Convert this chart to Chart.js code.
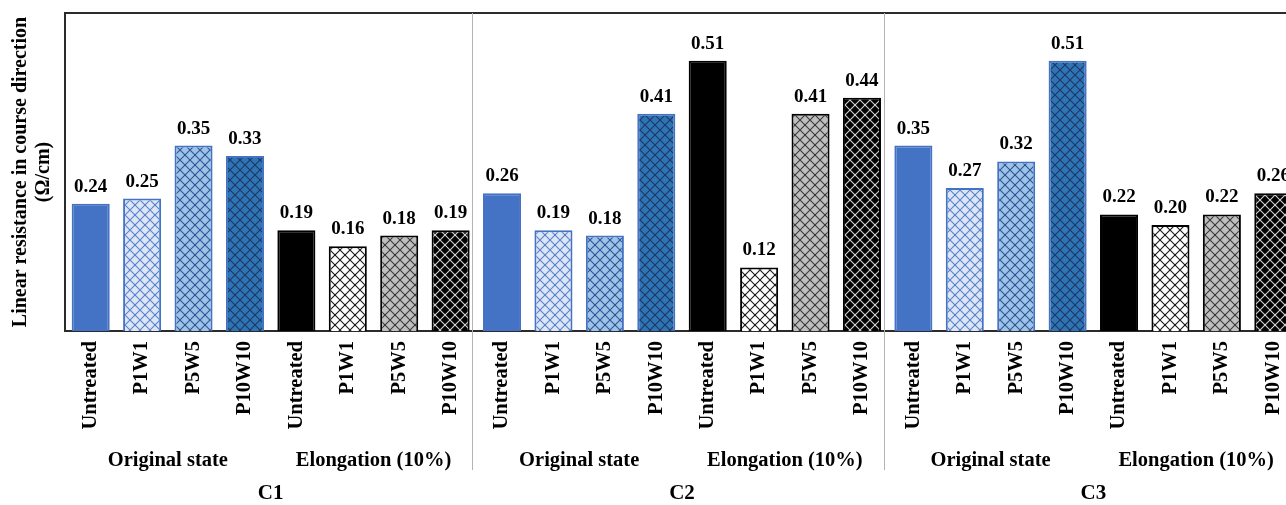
<!DOCTYPE html>
<html>
<head>
<meta charset="utf-8">
<script src="https://cdn.jsdelivr.net/npm/chart.js@4"></script>
<style>
  html, body { margin: 0; padding: 0; background: #fff; overflow: hidden; }
  canvas { display: block; }
</style>
</head>
<body>
<canvas id="resistanceChart" width="1300" height="505"></canvas>
<script>
// categories
const fabrics = ['C1', 'C2', 'C3'];
const states = ['Original state', 'Elongation (10%)'];
const treatments = ['Untreated', 'P1W1', 'P5W5', 'P10W10'];

// linear resistance (Ω/cm), 4 original + 4 elongated per fabric
const c1Values = [0.24, 0.25, 0.35, 0.33, 0.19, 0.16, 0.18, 0.19];
const c2Values = [0.26, 0.19, 0.18, 0.41, 0.51, 0.12, 0.41, 0.44];
const c3Values = [0.35, 0.27, 0.32, 0.51, 0.22, 0.20, 0.22, 0.26];

const yTitle = ['Linear resistance in course direction', '(Ω/cm)'];

const SERIF = '"Liberation Serif", "Times New Roman", serif';

/**
 * Builds a lattice fill pattern for a bar.
 */
function latticePattern(bg, line) {
  const tile = document.createElement('canvas');
  tile.width = 10;
  tile.height = 10;
  const c = tile.getContext('2d');
  c.fillStyle = bg;
  c.fillRect(0, 0, 10, 10);
  c.strokeStyle = line;
  c.lineWidth = 1.1;
  c.beginPath();
  c.moveTo(0, 0); c.lineTo(10, 10);
  c.moveTo(10, 0); c.lineTo(0, 10);
  c.stroke();
  c.fillStyle = line;
  c.fillRect(4, 4, 2, 2);
  return c.createPattern(tile, 'repeat');
}

// fills per treatment: original state, then elongated
const originalFills = [
  '#4472c4',
  latticePattern('#dde6f5', '#5a82cc'),
  latticePattern('#9dc3e6', '#2f5597'),
  latticePattern('#2e75b6', '#1f3864'),
];
const elongFills = [
  '#000000',
  latticePattern('#ffffff', '#1a1a1a'),
  latticePattern('#bfbfbf', '#3a3a3a'),
  latticePattern('#000000', '#d0d0d0'),
];

const labels = [];
const values = [];
const fills = [];
const borders = [];
[c1Values, c2Values, c3Values].forEach(arr => {
  states.forEach((s, si) => {
    treatments.forEach((t, ti) => {
      labels.push(t);
      values.push(arr[si * 4 + ti]);
      fills.push(si === 0 ? originalFills[ti] : elongFills[ti]);
      borders.push(si === 0 ? '#4472c4' : '#000000');
    });
  });
});

// value labels, group labels, separators and top frame line
const decorations = {
  id: 'decorations',
  afterDatasetsDraw(chart) {
    const { ctx } = chart;
    const meta = chart.getDatasetMeta(0);
    ctx.save();
    ctx.fillStyle = '#000';
    ctx.font = `bold 19px ${SERIF}`;
    ctx.textAlign = 'center';
    ctx.textBaseline = 'alphabetic';
    meta.data.forEach((bar, i) => {
      ctx.fillText(values[i].toFixed(2), bar.x, bar.y - 12);
    });
    ctx.restore();
  },
  afterDraw(chart) {
    const { ctx, chartArea } = chart;
    const x = chart.scales.x;
    ctx.save();
    // top frame
    ctx.strokeStyle = '#2b2b2b';
    ctx.lineWidth = 2;
    ctx.beginPath();
    ctx.moveTo(chartArea.left, chartArea.top);
    ctx.lineTo(chartArea.right, chartArea.top);
    ctx.stroke();

    // separators between fabrics
    ctx.strokeStyle = '#b3b3b3';
    ctx.lineWidth = 1;
    for (let g = 1; g < fabrics.length; g++) {
      const px = Math.round((x.getPixelForValue(g * 8 - 1) + x.getPixelForValue(g * 8)) / 2) - 3.5;
      ctx.beginPath();
      ctx.moveTo(px, chartArea.top);
      ctx.lineTo(px, chartArea.bottom + 139);
      ctx.stroke();
    }

    ctx.fillStyle = '#000';
    ctx.textAlign = 'center';
    ctx.textBaseline = 'middle';
    ctx.font = `bold 20.5px ${SERIF}`;
    fabrics.forEach((f, g) => {
      states.forEach((s, si) => {
        const first = g * 8 + si * 4;
        const cx = (x.getPixelForValue(first) + x.getPixelForValue(first + 3)) / 2;
        ctx.fillText(s, cx, chartArea.bottom + 130);
      });
    });
    ctx.font = `bold 21px ${SERIF}`;
    fabrics.forEach((f, g) => {
      const cx = (x.getPixelForValue(g * 8) + x.getPixelForValue(g * 8 + 7)) / 2;
      ctx.fillText(f, cx, chartArea.bottom + 163);
    });
    ctx.restore();
  },
};

new Chart('resistanceChart', {
  type: 'bar',
  data: {
    labels,
    datasets: [{
      data: values,
      backgroundColor: fills,
      borderColor: borders,
      borderWidth: 2,
      borderSkipped: 'bottom',
      barPercentage: 0.74,
      categoryPercentage: 1,
    }],
  },
  options: {
    responsive: false,
    animation: false,
    layout: { padding: { top: 13, right: 1, bottom: 0, left: 0 } },
    plugins: {
      legend: { display: false },
      tooltip: { enabled: false },
    },
    scales: {
      x: {
        grid: { display: false, drawTicks: false },
        border: { display: true, color: '#2b2b2b', width: 2 },
        ticks: {
          autoSkip: false,
          minRotation: 90,
          maxRotation: 90,
          padding: 10,
          color: '#000',
          font: { family: SERIF, size: 20.5, weight: 'bold' },
        },
        afterFit(scale) {
          scale.height = 174;
          // rotated labels would otherwise shrink the plot on the sides
          scale.paddingLeft = 0;
          scale.paddingRight = 0;
        },
      },
      y: {
        min: 0,
        max: 0.6,
        grid: { display: false, drawTicks: false },
        border: { display: true, color: '#2b2b2b', width: 2 },
        ticks: { display: false },
        title: {
          display: true,
          text: yTitle,
          color: '#000',
          padding: { top: 9, bottom: 0 },
          font: { family: SERIF, size: 20, weight: 'bold', lineHeight: 1.15 },
        },
        afterFit(scale) { scale.width = 65; },
      },
    },
  },
  plugins: [decorations],
});
</script>
</body>
</html>
